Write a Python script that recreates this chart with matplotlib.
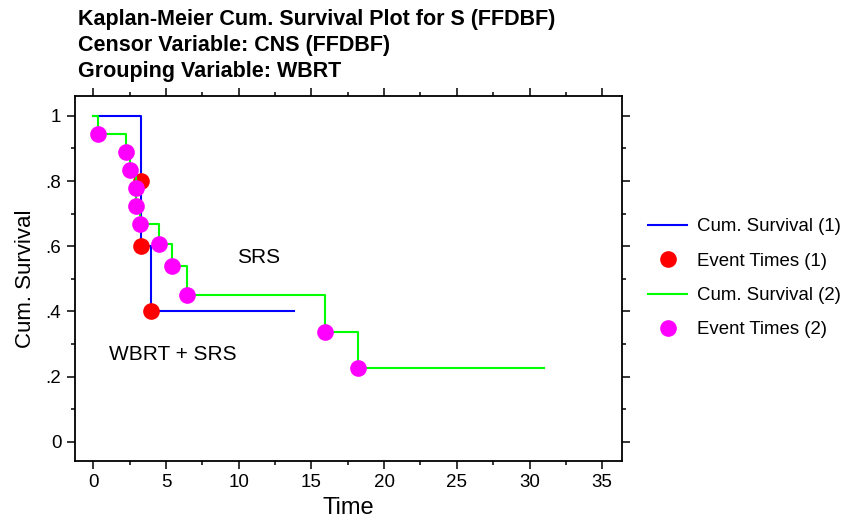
import numpy as np
import matplotlib
matplotlib.use("Agg")
import matplotlib.pyplot as plt
from matplotlib.ticker import MultipleLocator, FixedLocator, FixedFormatter

plt.rcParams['font.family'] = ['Liberation Sans', 'DejaVu Sans']

# Group 1 (WBRT + SRS): event times and survival after each event
t_events_1 = [3.3, 3.3, 4.0]
s_events_1 = [0.8, 0.6, 0.4]
t_end_1 = 13.8

# Group 2 (SRS)
t_events_2 = [0.3, 2.25, 2.55, 2.95, 2.95, 3.2, 4.5, 5.4, 6.45, 15.95, 18.2]
s_events_2 = [0.944, 0.889, 0.833, 0.778, 0.722, 0.667, 0.606, 0.539, 0.449, 0.337, 0.225]
t_end_2 = 31.0

title_lines = ["Kaplan-Meier Cum. Survival Plot for S (FFDBF)",
               "Censor Variable: CNS (FFDBF)",
               "Grouping Variable: WBRT"]
y_ticks = [0, 0.2, 0.4, 0.6, 0.8, 1.0]
y_tick_labels = ["0", ".2", ".4", ".6", ".8", "1"]


def step_xy(times, surv, t_end):
    xs = [0.0] + list(times) + [t_end]
    ys = [1.0] + list(surv) + [surv[-1]]
    return xs, ys


fig = plt.figure(figsize=(8.56, 5.18), dpi=100)
ax = fig.add_axes([0.0876, 0.1106, 0.7263 - 0.0876, 0.8147 - 0.1106])

x1, y1 = step_xy(t_events_1, s_events_1, t_end_1)
x2, y2 = step_xy(t_events_2, s_events_2, t_end_2)

ax.step(x1, y1, where='post', color='#0000ff', lw=1.5, label='Cum. Survival (1)')
ax.plot(t_events_1, s_events_1, 'o', color='#ff0000', ms=12, mec='none',
        label='Event Times (1)')
ax.step(x2, y2, where='post', color='#00ff00', lw=1.5, label='Cum. Survival (2)')
ax.plot(t_events_2, s_events_2, 'o', color='#ff00ff', ms=12, mec='none',
        label='Event Times (2)')

ax.text(11.35, 0.565, "SRS", fontsize=15, ha='center', va='center')
ax.text(5.5, 0.267, "WBRT + SRS", fontsize=15, ha='center', va='center')

ax.set_xlim(-1.26, 36.34)
ax.set_ylim(-0.058, 1.061)
ax.xaxis.set_major_locator(MultipleLocator(5))
ax.xaxis.set_minor_locator(MultipleLocator(2.5))
ax.yaxis.set_major_locator(FixedLocator(y_ticks))
ax.yaxis.set_major_formatter(FixedFormatter(y_tick_labels))
ax.yaxis.set_minor_locator(MultipleLocator(0.1))

ax.tick_params(which='both', direction='out', top=True, right=True,
               width=1.1, labelsize=13.5, pad=4)
ax.tick_params(which='major', length=5.8)
ax.tick_params(which='minor', length=2.9)
for sp in ax.spines.values():
    sp.set_linewidth(1.3)

ax.set_xlabel("Time", fontsize=17, labelpad=4)
ax.set_ylabel("Cum. Survival", fontsize=16, labelpad=7)

for txt, yb in zip(title_lines, [0.9517, 0.9025, 0.852]):
    fig.text(0.091, yb, txt, fontsize=15.5, fontweight='bold', va='baseline', ha='left')

ax.legend(loc='center left', bbox_to_anchor=(1.031, 0.5), frameon=False,
          fontsize=13.4, handlelength=2.1, handletextpad=0.55, labelspacing=0.93,
          borderpad=0)

fig.savefig("out.png", dpi=100)
